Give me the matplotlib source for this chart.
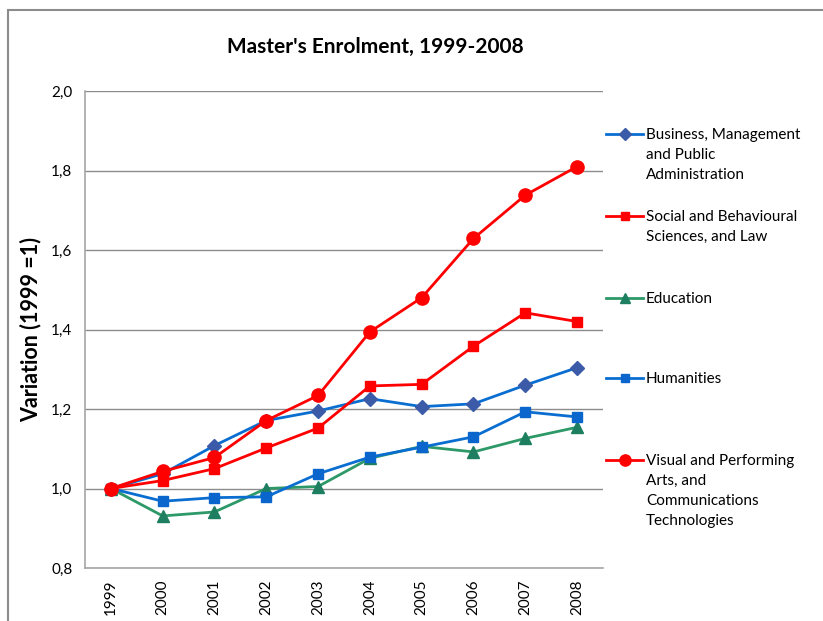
import matplotlib
matplotlib.use("Agg")
import matplotlib.pyplot as plt
from matplotlib.lines import Line2D
from matplotlib.patches import Rectangle

plt.rcParams['font.family'] = ['Lato', 'DejaVu Sans']

years = ["1999", "2000", "2001", "2002", "2003", "2004", "2005", "2006", "2007", "2008"]
business = [1.0, 1.037, 1.108, 1.171, 1.195, 1.226, 1.206, 1.213, 1.260, 1.304]
social = [1.0, 1.020, 1.050, 1.102, 1.152, 1.258, 1.262, 1.358, 1.442, 1.420]
education = [1.0, 0.931, 0.941, 1.0, 1.005, 1.076, 1.106, 1.092, 1.126, 1.154]
humanities = [1.0, 0.968, 0.977, 0.979, 1.037, 1.079, 1.104, 1.130, 1.193, 1.180]
visual = [1.0, 1.043, 1.078, 1.171, 1.234, 1.394, 1.480, 1.629, 1.738, 1.810]

labels = [
    "Business, Management\nand Public\nAdministration",
    "Social and Behavioural\nSciences, and Law",
    "Education",
    "Humanities",
    "Visual and Performing\nArts, and\nCommunications\nTechnologies",
]
yticks = [0.8, 1.0, 1.2, 1.4, 1.6, 1.8, 2.0]
ytick_labels = ["0,8", "1,0", "1,2", "1,4", "1,6", "1,8", "2,0"]

W, H = 823, 621
fig = plt.figure(figsize=(W / 100, H / 100), dpi=100)
ax = fig.add_axes([85 / W, (H - 568) / H, 518 / W, 477 / H])

styles = [
    dict(color="#0A6ED1", marker="D", ms=7, mfc="#3B5BA9", mec="#3B5BA9"),
    dict(color="#FF0000", marker="s", ms=7.5, mfc="#FF0000", mec="#FF0000"),
    dict(color="#2E9968", marker="^", ms=9, mfc="#1E7F60", mec="#1E7F60"),
    dict(color="#0A6ED1", marker="s", ms=7.5, mfc="#0A66CC", mec="#0A66CC"),
    dict(color="#FF0000", marker="o", ms=9.5, mfc="#FF0000", mec="#FF0000"),
]
series = [business, social, education, humanities, visual]
x = list(range(len(years)))
order = [2, 3, 0, 1, 4]
for i in order:
    ax.plot(x, series[i], lw=2.0, zorder=3 + i, **styles[i])

ax.set_xlim(-0.5, len(years) - 0.5)
ax.set_ylim(0.8, 2.0)
ax.set_yticks(yticks)
ax.set_yticklabels(ytick_labels, fontsize=11)
ax.set_xticks(x)
ax.set_xticklabels(years, rotation=90, fontsize=11)
ax.tick_params(axis="both", length=0)
ax.tick_params(axis="y", pad=9)
ax.tick_params(axis="x", pad=8)
ax.grid(axis="y", color="#8C8C8C", lw=1.0)
ax.set_axisbelow(True)
for s in ["top", "right"]:
    ax.spines[s].set_visible(False)
for s in ["left", "bottom"]:
    ax.spines[s].set_color("#A6A6A6")
    ax.spines[s].set_linewidth(1.2)

ax.set_ylabel("Variation (1999 =1)", fontsize=15.5, fontweight="bold", labelpad=7)
fig.text(375 / W, 1 - 47 / H, "Master's Enrolment, 1999-2008", fontsize=15,
         fontweight="bold", ha="center", va="center")

# legend drawn manually so handles align with the first text line
leg_y = [134, 216, 298, 378, 460]
for i, (yy, lab) in enumerate(zip(leg_y, labels)):
    fy = 1 - yy / H
    st = dict(styles[i])
    st["ms"] = st["ms"] * 0.85
    fig.add_artist(Line2D([606 / W, 624.5 / W, 643 / W], [fy, fy, fy], lw=2.0,
                          transform=fig.transFigure, markevery=[1], **st))
    fig.text(646 / W, fy + 6 / H, lab, fontsize=11, ha="left", va="top",
             linespacing=1.55)

fig.add_artist(Rectangle((8 / W, -0.1), 1.2, (H - 10) / H + 0.1, transform=fig.transFigure,
                         fill=False, ec="#8C8C8C", lw=1.5))

fig.savefig("out.png", dpi=100)
